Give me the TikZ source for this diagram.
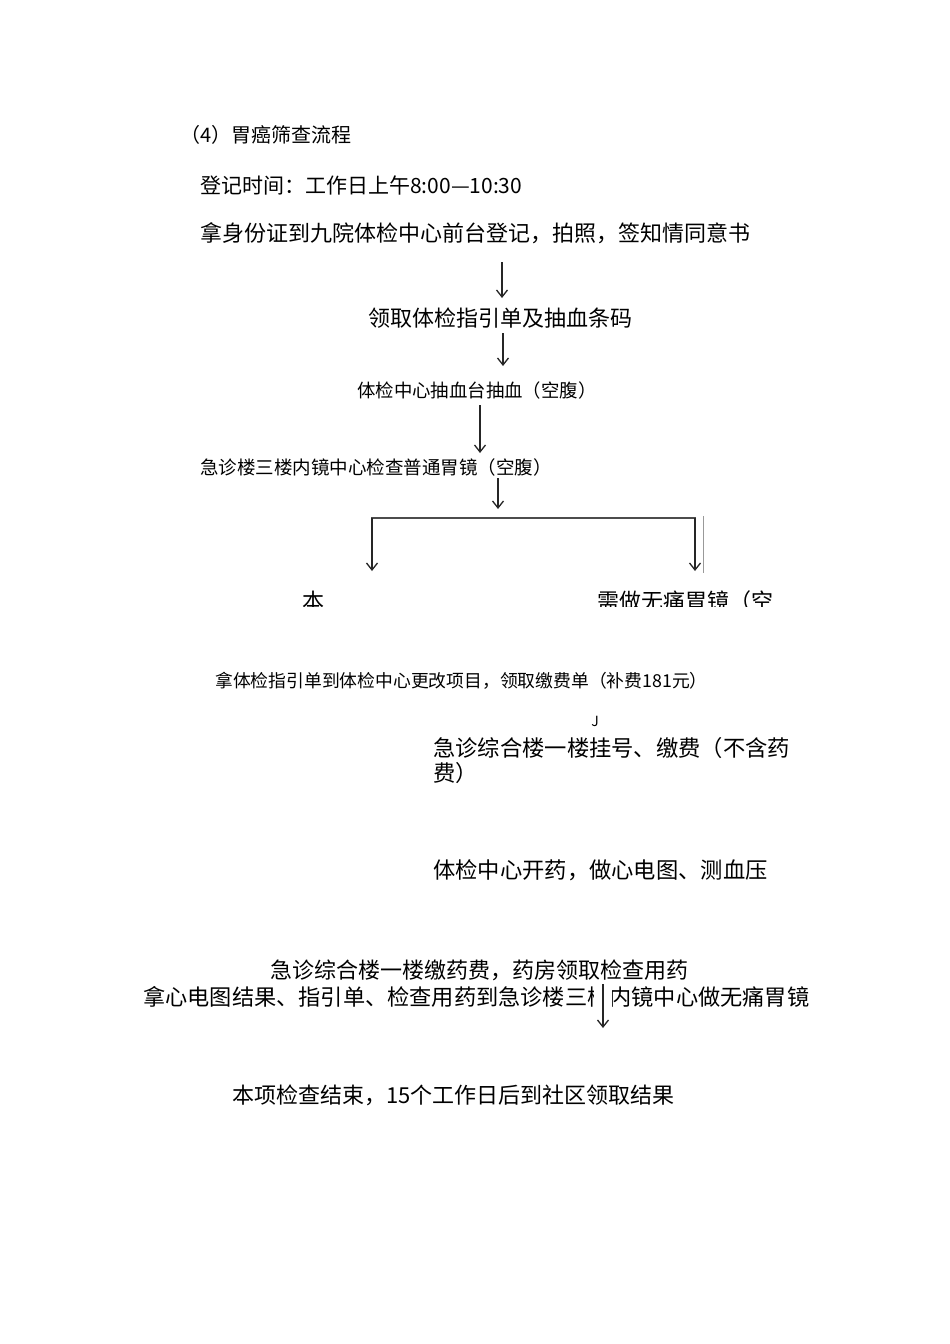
\documentclass[tikz,border=0pt]{standalone}
\usepackage{fontspec}
\setmainfont{Noto Sans CJK SC}
\usetikzlibrary{arrows.meta}
\tikzset{
  t/.style={anchor=west,inner sep=0pt,font=\fontsize{#1}{#1}\selectfont},
  arr/.style={-{Straight Barb[length=7pt,width=11pt]},line width=1.3pt,draw=black!85},
}
\begin{document}
\begin{tikzpicture}[x=1pt,y=-1pt]
\useasboundingbox[fill=white] (0,0) rectangle (950,1344);
\node[t=20] (n0) at (180,135) {（4）胃癌筛查流程};
\node[t=21] (n1) at (200,185) {登记时间：工作日上午8:00—10:30};
\node[t=22] (n2) at (200,233) {拿身份证到九院体检中心前台登记，拍照，签知情同意书};
\node[t=22] (n3) at (368,318) {领取体检指引单及抽血条码};
\node[t=18.4] (n4) at (357,391) {体检中心抽血台抽血（空腹）};
\node[t=18.5] (n5) at (200,467) {急诊楼三楼内镜中心检查普通胃镜（空腹）};
\coordinate (a1) at (502,262); \coordinate (b1) at (502,298);
\coordinate (a2) at (503,333); \coordinate (b2) at (503,366);
\coordinate (a3) at (480,405); \coordinate (b3) at (480,453);
\coordinate (a4) at (498,478); \coordinate (b4) at (498,509);
\draw[arr] (a1) -- (b1);
\draw[arr] (a2) -- (b2);
\draw[arr] (a3) -- (b3);
\draw[arr] (a4) -- (b4);
\coordinate (hl) at (371,518); \coordinate (hr) at (696,518);
\draw[line width=1.6pt,black!70] (hl) -- (hr);
\coordinate (l2) at (372,571); \coordinate (r2) at (695,571);
\draw[arr] (372,518) -- (l2);
\draw[arr] (695,518) -- (r2);
\draw[black!40,line width=0.8pt] (703,516) -- (703,573);
\begin{scope}
\clip (0,585) rectangle (950,606);
\node[t=22] (m1) at (302,601) {本};
\node[t=22] (m2) at (597,601) {需做无痛胃镜（空};
\end{scope}
\node[t=17.8] (n6) at (215,681) {拿体检指引单到体检中心更改项目，领取缴费单（补费181元）};
\node[anchor=center,inner sep=0pt,font=\fontsize{14}{14}\selectfont\rmfamily] (j) at (595,721) {J};
\node[t=22.3] (n7) at (433,748) {急诊综合楼一楼挂号、缴费（不含药};
\node[t=22.3] (n7b) at (433,773) {费）};
\node[t=22.3] (n8) at (433,870) {体检中心开药，做心电图、测血压};
\node[t=22] (n9) at (270,970) {急诊综合楼一楼缴药费，药房领取检查用药};
\node[t=22.2] (n10) at (143,997) {拿心电图结果、指引单、检查用药到急诊楼三楼内镜中心做无痛胃镜};
\fill[white] (594,984) rectangle (612,1010);
\coordinate (a5) at (603,984); \coordinate (b5) at (603,1028);
\draw[arr] (a5) -- (b5);
\node[t=22] (n11) at (232,1095) {本项检查结束，15个工作日后到社区领取结果};
\end{tikzpicture}
\end{document}
